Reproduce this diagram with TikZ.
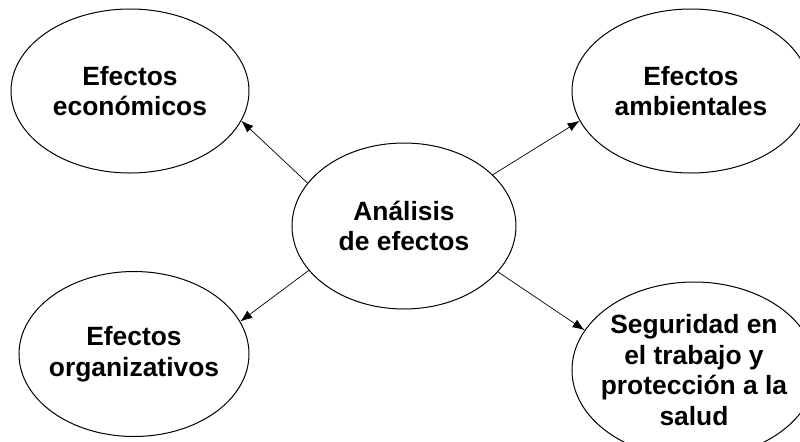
\documentclass[tikz,border=0pt]{standalone}
\usepackage{fontspec}
\setmainfont{Liberation Sans}
\usetikzlibrary{shapes, arrows.meta, calc, positioning}
\tikzstyle{line} = [draw, line width=0.35pt, -{Latex[length=6pt, width=4.5pt]}]
\tikzstyle{bubble} = [ellipse, draw, line width=0.5pt, text centered, align=center, inner sep=-5pt, font=\fontsize{13.2}{15.4}\selectfont\bfseries]

\begin{document}
\begin{tikzpicture}[node distance=0.5cm, on grid=true]
\useasboundingbox (-202pt,-107.5pt) rectangle (198pt,113pt);
\node [bubble, minimum width=112pt, minimum height=83pt] (analisis) {Análisis\\de efectos};
\node [bubble, above left=67.5pt and 137pt of analisis, minimum width=119pt, minimum height=82pt] (economicos) {Efectos\\económicos};
\node [bubble, above right=67.5pt and 143.5pt of analisis, minimum width=119pt, minimum height=82pt] (ambientales) {Efectos\\ambientales};
\node [bubble, below left=64pt and 135pt of analisis, minimum width=115pt, minimum height=82.5pt] (organizativos) {Efectos\\organizativos};
\node [bubble, below right=72pt and 145pt of analisis, minimum width=122pt, minimum height=88pt] (seguridad) {Seguridad en\\el trabajo y\\protección a la\\salud};
\path [line] (analisis.156) -- (economicos.345);
\path [line] (analisis.30) -- (ambientales.195);
\path [line] (analisis.205) -- (organizativos.17);
\path [line] (analisis.334) -- (seguridad.160);
\end{tikzpicture}
\end{document}
